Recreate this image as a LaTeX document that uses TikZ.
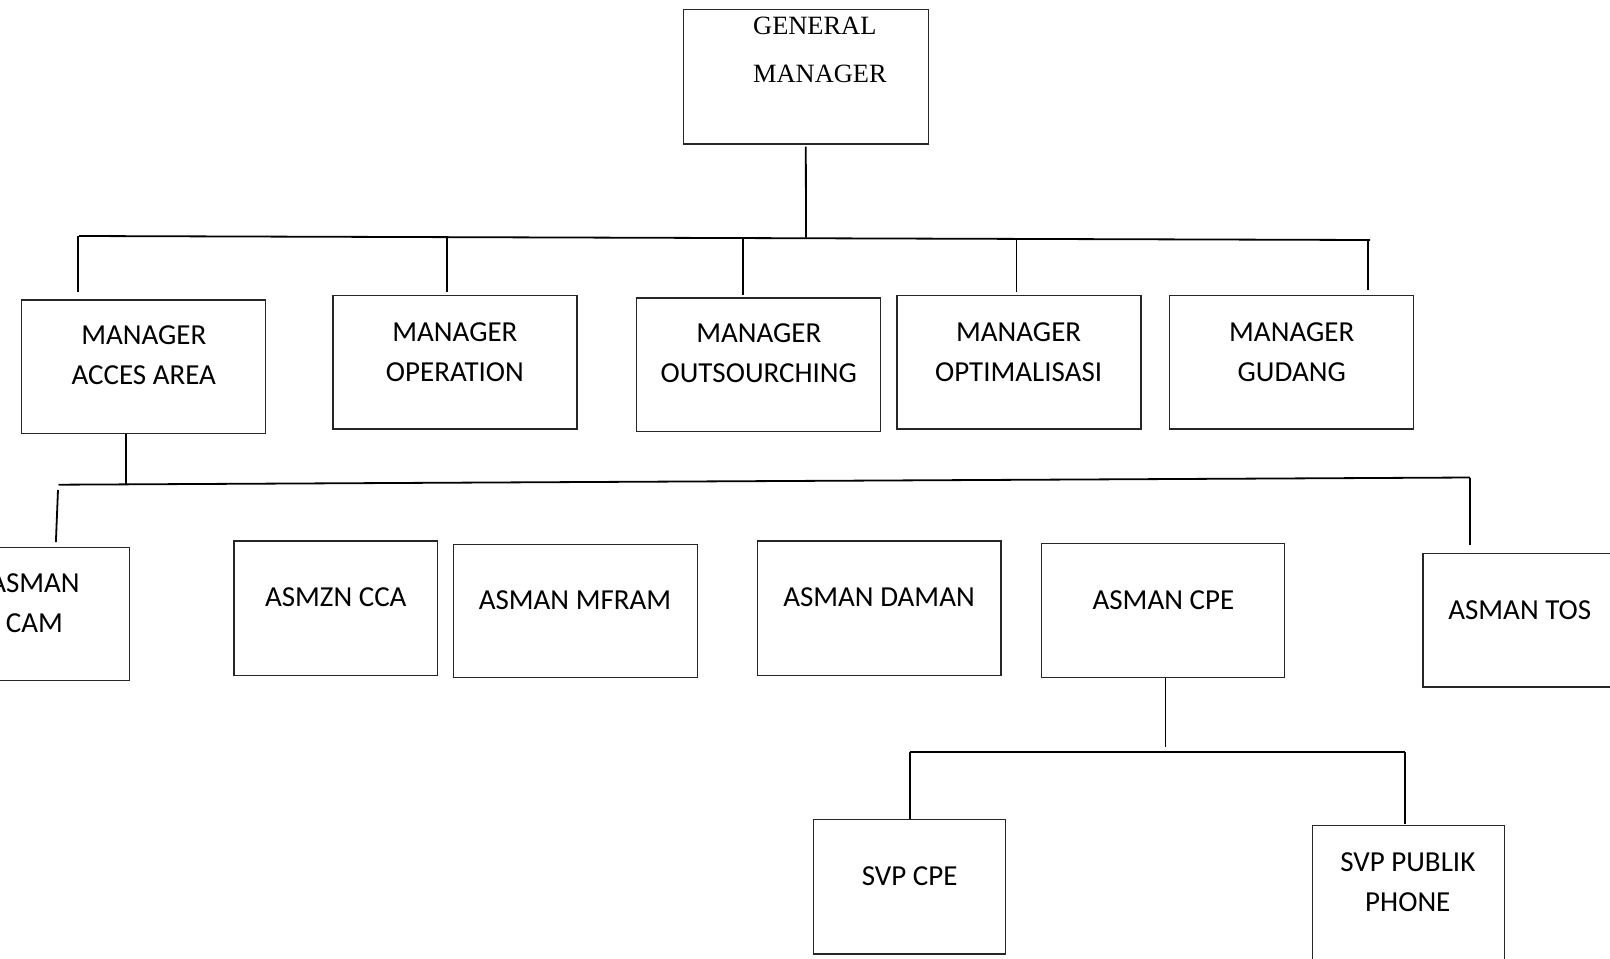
\documentclass[tikz,border=0pt]{standalone}
\usepackage{fontspec}
\setmainfont{Carlito}
\newfontfamily\gmfont{Liberation Serif}
\begin{document}
\begin{tikzpicture}[x=1pt,y=-1pt,
  box/.style={draw=black!85, line width=1.3pt, rectangle, inner sep=0pt},
  lvlbox/.style={box, minimum width=244pt, minimum height=133.3pt},
  lbl/.style={font=\fontsize{29}{40}\selectfont, align=center, inner sep=0pt},
  conn/.style={line width=1.8pt, black}]
\useasboundingbox (0,0) rectangle (1610,959);
\fill[white] (0,0) rectangle (1610,959);
\clip (0,0) rectangle (1610,959);

% General manager
\node[box, minimum width=245pt, minimum height=134.7pt] (gm) at (805.8,76.6) {};
\node[inner sep=0pt, anchor=west, align=left, font=\gmfont\fontsize{26.4}{48}\selectfont] (gmt) at (753,50) {GENERAL\\MANAGER};

% Level 1
\node[lvlbox] (acc) at (143.8,366.5) {};
\node[lvlbox] (ope) at (455,362.4) {};
\node[lvlbox] (out) at (758.8,364.5) {};
\node[lvlbox] (opt) at (1019,362.4) {};
\node[lvlbox] (gud) at (1291.3,362.4) {};
\node[lbl] (acct) at (143.8,355.3) {MANAGER\\ACCES AREA};
\node[lbl] (opet) at (454.9,351.7) {MANAGER\\OPERATION};
\node[lbl] (outt) at (758.8,353.2) {MANAGER\\OUTSOURCHING};
\node[lbl] (optt) at (1018.6,351.7) {MANAGER\\OPTIMALISASI};
\node[lbl] (gudt) at (1291.7,351.7) {MANAGER\\GUDANG};

% Level 2
\node[box, minimum width=189.4pt, minimum height=133.5pt] (cam) at (34.7,614) {};
\node[box, minimum width=203.4pt, minimum height=134.6pt] (cca) at (335.7,608.3) {};
\node[box, minimum width=243.4pt, minimum height=133.5pt] (mfr) at (575.5,611) {};
\node[box, minimum width=243.2pt, minimum height=134.6pt] (dam) at (879.4,608.3) {};
\node[box, minimum width=243.3pt, minimum height=134.5pt] (cpe) at (1162.9,610.5) {};
\node[box, minimum width=191pt, minimum height=133.6pt] (tos) at (1518.5,620.2) {};
\node[lbl] (camt) at (34.5,602.7) {ASMAN\\CAM};
\node[lbl] (ccat) at (335.8,597.6) {ASMZN CCA};
\node[lbl] (mfrt) at (575,599.7) {ASMAN MFRAM};
\node[lbl] (damt) at (879,597.6) {ASMAN DAMAN};
\node[lbl] (cpet) at (1163.4,599.7) {ASMAN CPE};
\node[lbl] (tost) at (1519.7,610) {ASMAN TOS};

% Level 3
\node[box, minimum width=192pt, minimum height=134.5pt] (svc) at (909.2,886.7) {};
\node[box, minimum width=192pt, minimum height=134.5pt] (svp) at (1408.3,892.7) {};
\node[lbl] (svct) at (909.7,875.9) {SVP CPE};
\node[lbl] (svpt) at (1407.8,882.5) {SVP PUBLIK\\PHONE};

% Connectors level 0 -> 1
\coordinate (tb1) at (79,236);
\coordinate (tb2) at (1370,240);
\coordinate (tbg) at (806,237.5);
\draw[conn] (tb1) -- (tb2);
\draw[conn, shorten <=2pt] (gm.south) -- (tbg);
\coordinate (t1) at (78,236);
\coordinate (t2) at (447,237.1);
\coordinate (t3) at (743,238);
\coordinate (t4) at (1016.5,238.9);
\coordinate (t5) at (1368,240);
\draw[conn, shorten >=7pt] (t1) -- (t1 |- acc.north);
\draw[conn, shorten >=2.7pt] (t2) -- (t2 |- ope.north);
\draw[conn, shorten >=2pt] (t3) -- (t3 |- out.north);
\draw[conn, shorten >=2.7pt] (t4) -- (t4 |- opt.north);
\draw[conn, shorten >=4.7pt] (t5) -- (t5 |- gud.north);

% Connectors level 1 -> 2
\coordinate (m1) at (58.5,484.7);
\coordinate (m2) at (1470,477.5);
\coordinate (ma) at (126.3,484.35);
\draw[conn] (m1) -- (m2);
\draw[conn] (acc.south -| ma) -- (ma);
\coordinate (mc) at (58,490);
\draw[conn, shorten >=4.5pt] (mc) -- ([xshift=-2.3pt]mc |- cam.north);
\draw[conn, shorten >=7.4pt] (m2) -- (m2 |- tos.north);

% Connectors level 2 -> 3
\coordinate (ca) at (1165.4,746.5);
\coordinate (l3a) at (909.7,751.6);
\coordinate (l3b) at (1404.7,751.6);
\draw[conn] (cpe.south -| ca) -- (ca);
\draw[conn] (l3a) -- (l3b);
\draw[conn] (l3a) -- (l3a |- svc.north);
\draw[conn, shorten >=1pt] (l3b) -- (l3b |- svp.north);
\end{tikzpicture}
\end{document}
